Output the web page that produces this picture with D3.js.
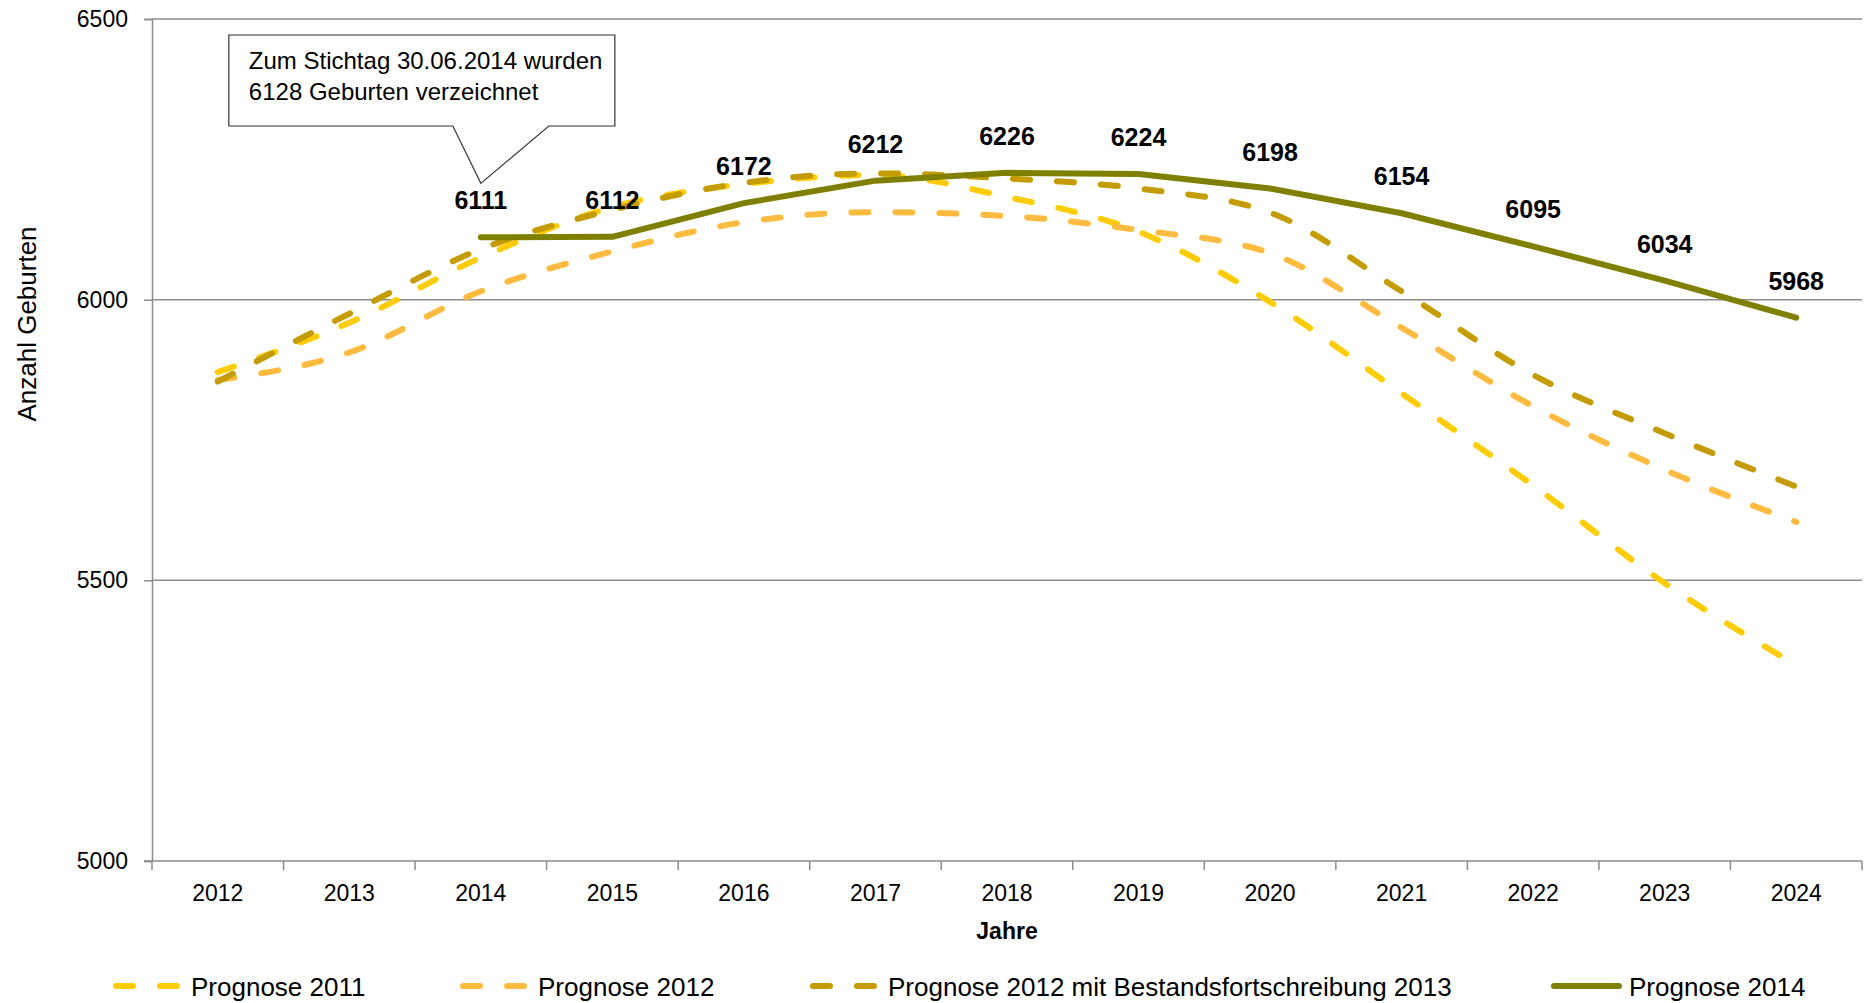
<!DOCTYPE html>
<html>
<head>
<meta charset="utf-8">
<script src="https://cdn.jsdelivr.net/npm/d3@7"></script>
<style>
    body { margin: 0; background: #fff; }
    text { font-family: "Liberation Sans Narrow", "Liberation Sans", Arial, sans-serif; fill: #000; }
</style>
</head>
<body>
<script>
// values
const years = [2012, 2013, 2014, 2015, 2016, 2017, 2018, 2019, 2020, 2021, 2022, 2023, 2024];
const prognose2011 = [5871, 5959, 6075, 6165, 6206, 6222, 6183, 6121, 5996, 5833, 5669, 5495, 5349];
const prognose2012 = [5857, 5906, 6015, 6086, 6138, 6156, 6149, 6124, 6083, 5950, 5810, 5697, 5604];
const prognose2012Bestand = [5854, 5975, 6090, 6160, 6208, 6225, 6216, 6198, 6155, 6015, 5866, 5762, 5667];
const prognose2014 = [null, null, 6111, 6112, 6172, 6212, 6226, 6224, 6198, 6154, 6095, 6034, 5968];
const seriesNames = ["Prognose 2011", "Prognose 2012", "Prognose 2012 mit Bestandsfortschreibung 2013", "Prognose 2014"];
const yTicks = [5000, 5500, 6000, 6500];
const noteLines = ["Zum Stichtag 30.06.2014 wurden", "6128 Geburten verzeichnet"];

const series = [
    {name: seriesNames[0], values: prognose2011, color: "#ffcc00", dashed: true},
    {name: seriesNames[1], values: prognose2012, color: "#ffbb40", dashed: true},
    {name: seriesNames[2], values: prognose2012Bestand, color: "#c49c00", dashed: true},
    {name: seriesNames[3], values: prognose2014, color: "#808000", dashed: false}
];

const width = 1874, height = 1003;
const plot = {left: 152, right: 1862, top: 19, bottom: 861};
const gridColor = "#8c8c8c";

const svg = d3.select("body").append("svg")
    .attr("width", width)
    .attr("height", height);

const xScale = d3.scaleBand()
    .domain(years)
    .range([plot.left, plot.right])
    .paddingInner(0)
    .paddingOuter(0);
const xc = (d) => xScale(d) + xScale.bandwidth() / 2;

const yScale = d3.scaleLinear()
    .domain([5000, 6500])
    .range([plot.bottom, plot.top]);

function renderGrid() {
    svg.append("g")
        .selectAll("line")
        .data(yTicks.filter((t) => t !== 5000))
        .enter()
        .append("line")
        .attr("x1", plot.left).attr("x2", plot.right)
        .attr("y1", (d) => yScale(d)).attr("y2", (d) => yScale(d))
        .attr("stroke", gridColor)
        .attr("stroke-width", 1.5);
}

function renderYaxis() {
    const yAxis = d3.axisLeft(yScale)
        .tickValues(yTicks)
        .tickFormat(d3.format("d"))
        .tickSize(8)
        .tickPadding(16);
    const g = svg.append("g")
        .attr("transform", "translate(" + plot.left + ",0)")
        .call(yAxis);
    g.select(".domain").attr("stroke", gridColor).attr("stroke-width", 1.5);
    g.selectAll(".tick line").attr("stroke", gridColor).attr("stroke-width", 1.5);
    g.selectAll(".tick text")
        .style("font-family", '"Liberation Sans Narrow", "Liberation Sans", Arial, sans-serif')
        .style("font-size", "23px");

    svg.append("text")
        .attr("transform", "translate(36,324) rotate(-90)")
        .attr("text-anchor", "middle")
        .style("font-size", "26px")
        .text("Anzahl Geburten");
}

function renderXaxis() {
    const g = svg.append("g");
    g.append("line")
        .attr("x1", plot.left - 8).attr("x2", plot.right)
        .attr("y1", plot.bottom).attr("y2", plot.bottom)
        .attr("stroke", gridColor).attr("stroke-width", 1.5);

    // tick marks sit between the categories
    const bounds = years.map((d) => xScale(d)).concat([plot.right]);
    g.selectAll(".sep")
        .data(bounds)
        .enter()
        .append("line")
        .attr("x1", (d) => d).attr("x2", (d) => d)
        .attr("y1", plot.bottom).attr("y2", plot.bottom + 9)
        .attr("stroke", gridColor).attr("stroke-width", 1.5);

    g.selectAll(".lbl")
        .data(years)
        .enter()
        .append("text")
        .attr("x", (d) => xc(d))
        .attr("y", plot.bottom + 40)
        .attr("text-anchor", "middle")
        .style("font-size", "23px")
        .text((d) => d);

    svg.append("text")
        .attr("x", 1007)
        .attr("y", 939)
        .attr("text-anchor", "middle")
        .style("font-size", "23px")
        .style("font-weight", "bold")
        .text("Jahre");
}

function renderLines() {
    series.forEach(function (s) {
        const pts = years.map((y, i) => ({year: y, value: s.values[i]}));
        const line = d3.line()
            .defined((d) => d.value !== null)
            .x((d) => xc(d.year))
            .y((d) => yScale(d.value))
            .curve(s.dashed ? d3.curveMonotoneX : d3.curveLinear);

        svg.append("path")
            .datum(pts)
            .attr("fill", "none")
            .attr("stroke", s.color)
            .attr("stroke-width", 6)
            .attr("stroke-linecap", "round")
            .attr("stroke-linejoin", "round")
            .attr("stroke-dasharray", s.dashed ? "17,27" : null)
            .attr("d", line);
    });
}

function renderLabels() {
    const pts = years.map((y, i) => ({year: y, value: prognose2014[i]}))
        .filter((d) => d.value !== null);
    svg.selectAll(".val")
        .data(pts)
        .enter()
        .append("text")
        .attr("x", (d) => xc(d.year))
        .attr("y", (d) => yScale(d.value) - 28)
        .attr("text-anchor", "middle")
        .style("font-size", "25px")
        .style("font-weight", "bold")
        .text((d) => d.value);
}

function renderNote() {
    const tipX = xc(2014);
    const tipY = yScale(prognose2014[2]) - 54;
    const box = {left: tipX - 252, right: tipX + 134, top: 35, bottom: 126};
    const path = d3.path();
    path.moveTo(box.left, box.top);
    path.lineTo(box.right, box.top);
    path.lineTo(box.right, box.bottom);
    path.lineTo(tipX + 68, box.bottom);
    path.lineTo(tipX, tipY);
    path.lineTo(tipX - 28, box.bottom);
    path.lineTo(box.left, box.bottom);
    path.closePath();

    svg.append("path")
        .attr("d", path.toString())
        .attr("fill", "#fff")
        .attr("stroke", "#333")
        .attr("stroke-width", 1.2);

    svg.selectAll(".note")
        .data(noteLines)
        .enter()
        .append("text")
        .attr("x", box.left + 20)
        .attr("y", (d, i) => 69 + i * 31)
        .style("font-size", "24px")
        .text((d) => d);
}

function renderLegend() {
    const legendX = [113, 460, 810, 1551];
    const ly = 986;
    const g = svg.append("g");
    series.forEach(function (s, i) {
        const x0 = legendX[i];
        g.append("line")
            .attr("x1", x0 + 3).attr("x2", x0 + 68)
            .attr("y1", ly).attr("y2", ly)
            .attr("stroke", s.color)
            .attr("stroke-width", 6)
            .attr("stroke-linecap", "round")
            .attr("stroke-dasharray", s.dashed ? "17,27" : null);
        g.append("text")
            .attr("x", x0 + 78)
            .attr("y", ly + 10)
            .style("font-size", "26px")
            .text(s.name);
    });
}

renderGrid();
renderLines();
renderYaxis();
renderXaxis();
renderLabels();
renderNote();
renderLegend();
</script>
</body>
</html>
